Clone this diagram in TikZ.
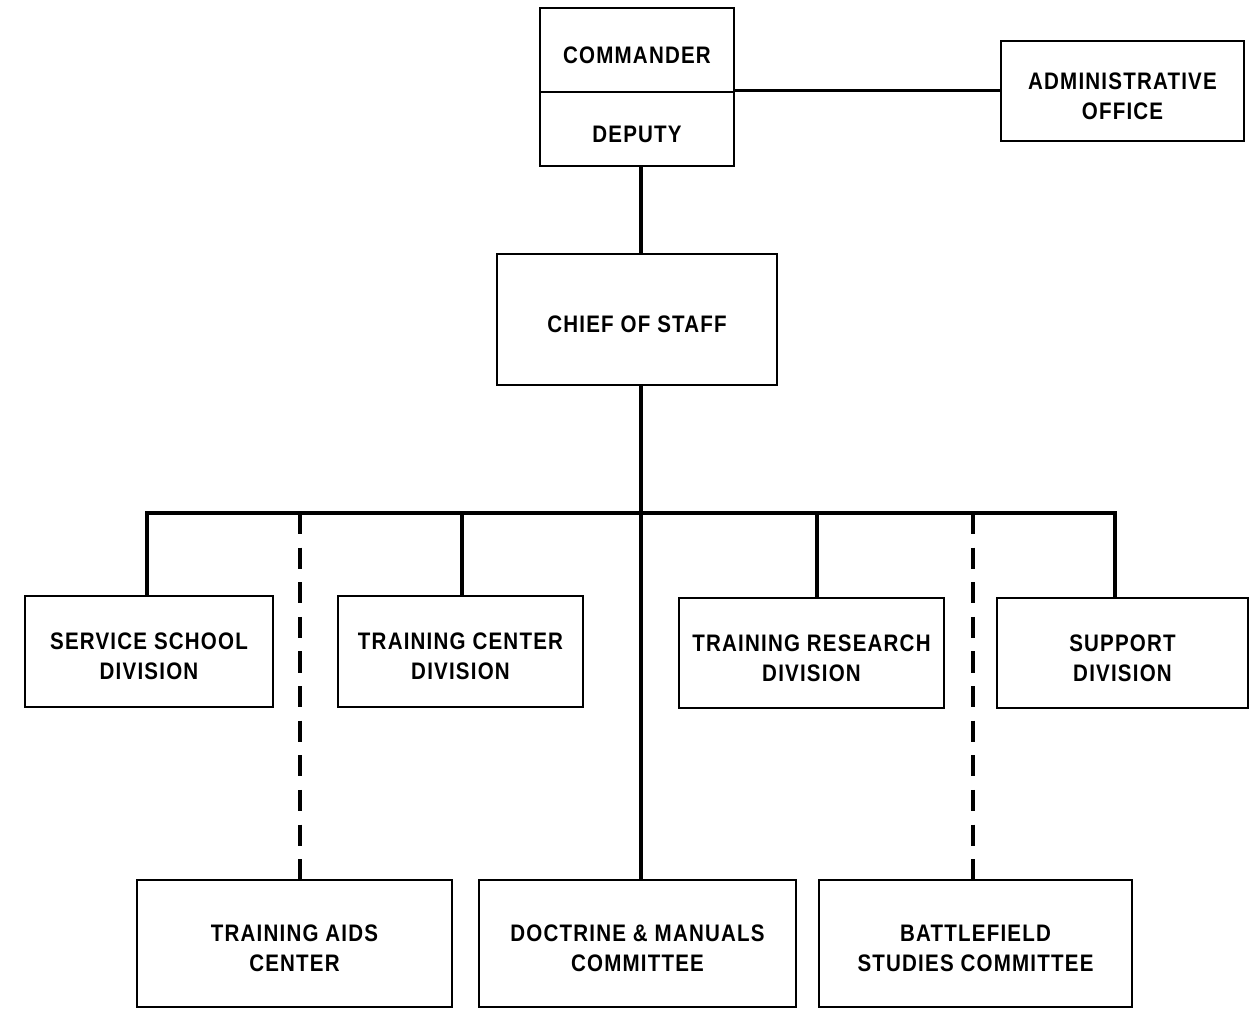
\documentclass[tikz,border=0pt]{standalone}
\usepackage{fontspec}
\setmainfont{Liberation Sans}[FakeStretch=0.86, LetterSpace=5]
\begin{document}
\begin{tikzpicture}[x=0.02cm, y=-0.02cm,
  box/.style={draw, line width=1.5pt, rectangle, inner sep=0pt},
  lbl/.style={inner sep=0pt, align=center, font=\fontsize{13.6}{17}\selectfont\bfseries},
  link/.style={line width=2pt},
  dlink/.style={line width=2pt, dash pattern=on 12pt off 7.7pt}]
\useasboundingbox (0,0) rectangle (1256,1009);
\newcommand{\bx}[6]{\node[box, minimum width={(#4-#2)*0.02cm}, minimum height={(#5-#3)*0.02cm}] (#1) at ({(#2+#4)/2},{(#3+#5)/2}) {};
  \node[lbl] (#1-t) at ([yshift=-0.1cm]#1.center) {#6};}
\bx{commander}{540}{8}{734}{92}{COMMANDER}
\bx{deputy}{540}{92}{734}{166}{DEPUTY}
\bx{admin}{1001}{41}{1244}{141}{ADMINISTRATIVE\\OFFICE}
\bx{chief}{497}{254}{777}{385}{CHIEF OF STAFF}
\bx{svc}{25}{596}{273}{707}{SERVICE SCHOOL\\DIVISION}
\bx{tcd}{338}{596}{583}{707}{TRAINING CENTER\\DIVISION}
\bx{trd}{679}{598}{944}{708}{TRAINING RESEARCH\\DIVISION}
\bx{sup}{997}{598}{1248}{708}{SUPPORT\\DIVISION}
\bx{tac}{137}{880}{452}{1007}{TRAINING AIDS\\CENTER}
\bx{dmc}{479}{880}{796}{1007}{DOCTRINE \& MANUALS\\COMMITTEE}
\bx{bsc}{819}{880}{1132}{1007}{BATTLEFIELD\\STUDIES COMMITTEE}
\coordinate (busy) at (0,513);
\coordinate (cx) at (641,0);
\coordinate (x1) at (147,0);
\coordinate (x2) at (462,0);
\coordinate (x3) at (817,0);
\coordinate (x4) at (1115,0);
\coordinate (d1) at (300,513);
\coordinate (d2) at (973,513);
\draw[link] (deputy.north east) -- (deputy.north east -| admin.west);
\draw[link] (deputy.south -| cx) -- (chief.north -| cx);
\draw[link] (chief.south -| cx) -- (dmc.north -| cx);
\draw[link] (svc.north -| x1) |- (x4 |- busy) -- (sup.north -| x4);
\draw[link] (tcd.north -| x2) -- (x2 |- busy);
\draw[link] (trd.north -| x3) -- (x3 |- busy);
\draw[dlink] (d1) -- (d1 |- tac.north);
\draw[dlink] (d2) -- (d2 |- bsc.north);
\end{tikzpicture}
\end{document}
